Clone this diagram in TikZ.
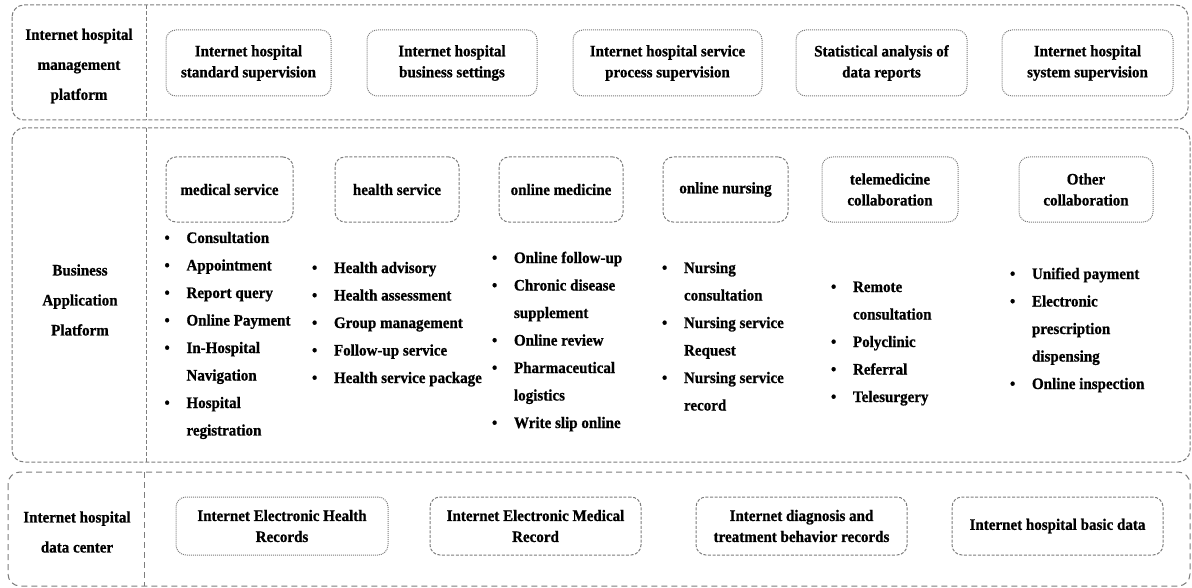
\documentclass[tikz,border=0pt]{standalone}
\usepackage{fontspec}
\setmainfont[FakeStretch=0.94, BoldFeatures={FakeBold=0.8}]{Liberation Serif}
\usepackage{array}

\definecolor{framegray}{RGB}{125,125,125}
\newcommand{\itemlist}[1]{{\fontsize{12}{20.625}\selectfont\bfseries
\begin{tabular}[t]{@{}p{16.5pt}@{}l@{}}#1\end{tabular}}}

\tikzset{every picture/.style={line width=0.75pt}}
\tikzset{
  rowframe/.style={draw=framegray, rounded corners=9pt, dash pattern={on 3pt off 1.5pt}},
  rowrule/.style={draw=framegray, dash pattern={on 3pt off 1.5pt}},
  dotbox/.style={draw=framegray, rounded corners=7.5pt, dash pattern={on 0.75pt off 0.75pt},
    align=center, inner sep=0pt, font=\fontsize{12}{15.75}\selectfont\bfseries},
  dashbox/.style={dotbox, dash pattern={on 2.25pt off 1.2pt}},
  headtext/.style={align=center, inner sep=0pt, font=\fontsize{12}{22.5}\selectfont\bfseries},
  itemtext/.style={anchor=base west, inner sep=0pt}
}

\begin{document}
\begin{tikzpicture}[x=0.75pt,y=0.75pt,yscale=-1,xscale=1]
\useasboundingbox (0,0) rectangle (1192,588);

%Shape: Rounded Rect - management platform
\draw [rowframe] (12,5) rectangle (1188,120) ;
\draw [rowrule] (146,5) -- (146,120) ;
%Shape: Rounded Rect - business platform
\draw [rowframe] (12,128) rectangle (1190,462) ;
\draw [rowrule] (146,128) -- (146,462) ;
%Shape: Rounded Rect - data center
\draw [rowframe, dash pattern={on 4.5pt off 3pt}] (8,472) rectangle (1190,586) ;
\draw [rowrule, dash pattern={on 4.5pt off 3pt}] (144,472) -- (144,586) ;

% Text Node
\node [headtext] (mgmt) at (79,66) {Internet hospital\\management\\platform};
\node [headtext] (busi) at (80,300) {Business\\Application\\Platform};
\node [headtext] (data) at (77,532) {Internet hospital\\data center};

%Rounded Rect - supervision row
\node [dotbox, minimum width=123.75pt, minimum height=49.5pt] (stdsup) at (248.5,63) {Internet hospital\\standard supervision};
\node [dotbox, minimum width=127.5pt, minimum height=49.5pt] (bizset) at (452,63) {Internet hospital\\business settings};
\node [dotbox, minimum width=141.75pt, minimum height=49.5pt] (procsup) at (667.5,63) {Internet hospital service\\process supervision};
\node [dotbox, minimum width=128.25pt, minimum height=49.5pt] (stat) at (881.5,63) {Statistical analysis of\\data reports};
\node [dotbox, minimum width=128.25pt, minimum height=49.5pt] (syssup) at (1087.5,63) {Internet hospital\\system supervision};

%Rounded Rect - business headers
\node [dashbox, minimum width=95.25pt, minimum height=48.75pt] (medsrv) at (229.5,189.5) {medical service};
\node [dashbox, minimum width=93pt, minimum height=48.75pt] (hlthsrv) at (397,189.5) {health service};
\node [dashbox, minimum width=93pt, minimum height=48.75pt] (onmed) at (561,189.5) {online medicine};
\node [dashbox, minimum width=93.75pt, minimum height=48.75pt] (onnurse) at (725.5,189.5) {online nursing};
\node [dotbox, minimum width=102pt, minimum height=48.75pt] (telemed) at (890,189.5) {telemedicine\\collaboration};
\node [dotbox, minimum width=100.5pt, minimum height=48.75pt] (other) at (1086,189.5) {Other\\collaboration};

% Text Node - item lists
\node [itemtext] (medlist) at (164,243) {\itemlist{
\textbullet & Consultation\\ \textbullet & Appointment\\ \textbullet & Report query\\
\textbullet & Online Payment\\ \textbullet & In-Hospital\\ & Navigation\\
\textbullet & Hospital\\ & registration}};
\node [itemtext] (hlthlist) at (311.5,273) {\itemlist{
\textbullet & Health advisory\\ \textbullet & Health assessment\\ \textbullet & Group management\\
\textbullet & Follow-up service\\ \textbullet & Health service package}};
\node [itemtext] (medilist) at (491.5,263) {\itemlist{
\textbullet & Online follow-up\\ \textbullet & Chronic disease\\ & supplement\\
\textbullet & Online review\\ \textbullet & Pharmaceutical\\ & logistics\\
\textbullet & Write slip online}};
\node [itemtext] (nurselist) at (661.5,273) {\itemlist{
\textbullet & Nursing\\ & consultation\\ \textbullet & Nursing service\\ & Request\\
\textbullet & Nursing service\\ & record}};
\node [itemtext] (telelist) at (830.5,292) {\itemlist{
\textbullet & Remote\\ & consultation\\ \textbullet & Polyclinic\\
\textbullet & Referral\\ \textbullet & Telesurgery}};
\node [itemtext] (otherlist) at (1009.5,279) {\itemlist{
\textbullet & Unified payment\\ \textbullet & Electronic\\ & prescription\\
& dispensing\\ \textbullet & Online inspection}};

%Rounded Rect - data center row
\node [dotbox, minimum width=159pt, minimum height=43.5pt] (ehr) at (282,526) {Internet Electronic Health\\Records};
\node [dashbox, minimum width=158.25pt, minimum height=43.5pt] (emr) at (535.5,526) {Internet Electronic Medical\\Record};
\node [dashbox, minimum width=158.25pt, minimum height=43.5pt] (behav) at (801.5,526) {Internet diagnosis and\\treatment behavior records};
\node [dashbox, minimum width=158.25pt, minimum height=43.5pt] (basic) at (1057.5,526) {Internet hospital basic data};

\end{tikzpicture}
\end{document}
